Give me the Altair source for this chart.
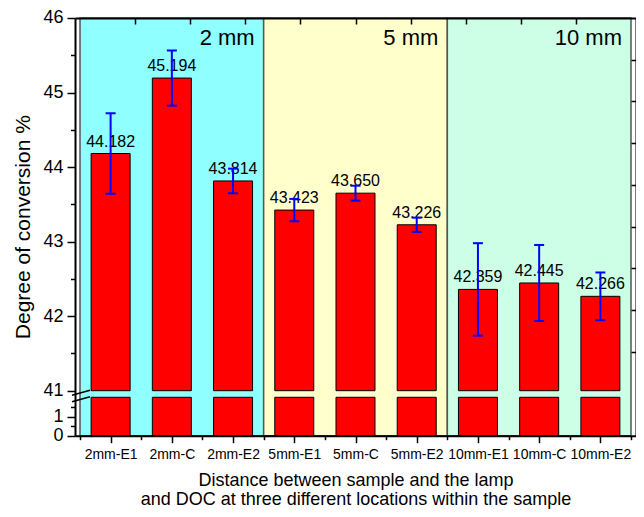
import json
import altair as alt
import pandas as pd

# ---- data ----
categories = ["2mm-E1", "2mm-C", "2mm-E2", "5mm-E1", "5mm-C", "5mm-E2",
              "10mm-E1", "10mm-C", "10mm-E2"]
values = [44.182, 45.194, 43.814, 43.423, 43.650, 43.226, 42.359, 42.445, 42.266]
errors = [0.54, 0.37, 0.165, 0.15, 0.10, 0.095, 0.62, 0.51, 0.32]
regions = ["2 mm"] * 3 + ["5 mm"] * 3 + ["10 mm"] * 3
region_names = ["2 mm", "5 mm", "10 mm"]
region_colors = ["#8FFFFF", "#FFFFCC", "#CCFFE6"]

y_major = [0, 1, 41, 42, 43, 44, 45, 46]
y_minor = [0.5, 1.5, 41.5, 42.5, 43.5, 44.5, 45.5]
break_values = [41, 2]
top_ticks = [0.4, 1.3, 2.2, 3.1, 4.0, 4.9, 5.8, 6.7, 7.6]
right_ticks = [45.44, 44.88, 44.32, 43.76, 43.20, 42.64, 42.08, 41.52]

W = 561
H = 417.7

df = pd.DataFrame({
    "category": categories,
    "value": values,
    "err": errors,
    "region": regions,
    "idx": list(range(len(categories))),
})
breaks = pd.DataFrame({"b": break_values})

xs = alt.Scale(domain=[-0.5, len(categories) - 0.5], nice=False, zero=False)
ys = alt.Scale(domain=[0, 2, 41, 46], range=[H, H - 38.4, H - 45, 0],
               nice=False, zero=False)

x_vals = [i / 2 - 0.5 for i in range(2 * len(categories) + 1)]
x_axis = alt.Axis(
    values=x_vals,
    labelExpr="datum.value % 1 === 0 ? " + json.dumps(categories) + "[datum.value] : ''",
    tickSize={"condition": {"test": "datum.value % 1 !== 0", "value": 4}, "value": 7},
    tickWidth=1.5, tickColor="black", domainColor="black", domainWidth=2,
    labelFontSize=14, labelPadding=5, labelFlush=False, labelOverlap=False,
    labelColor="black", grid=False, zindex=1,
    title=["Distance between sample and the lamp",
           "and DOC at three different locations within the sample"],
    titleFontSize=18, titleFontWeight="normal", titleColor="black",
    titleBaseline="alphabetic", titleY=50.3, titleLineHeight=19,
)
y_axis = alt.Axis(
    values=sorted(y_major + y_minor),
    labelExpr="datum.value % 1 === 0 ? datum.label : ''",
    tickSize={"condition": {"test": "datum.value % 1 !== 0", "value": 4.5}, "value": 8},
    tickWidth=1.5, tickColor="black", domainColor="black", domainWidth=2,
    labelFontSize=18, labelPadding=4, labelOverlap=False, labelColor="black",
    grid=False, zindex=1,
    title="Degree of conversion %", titleFontSize=21, titleFontWeight="normal",
    titleColor="black", titleBaseline="alphabetic", titleX=-45.5, titleY=208.7,
)
top_axis = alt.Axis(orient="bottom", offset=-H, values=top_ticks, labels=False,
                    tickSize=6, tickWidth=1.5, tickColor="black",
                    domainColor="black", domainWidth=2, grid=False, title=None, zindex=1)
right_axis = alt.Axis(orient="left", offset=-W, values=right_ticks, labels=False,
                      tickSize=5, tickWidth=1.5, tickColor="black",
                      domainColor="black", domainWidth=2, grid=False, title=None, zindex=1)

base = alt.Chart(df)

reg = base.transform_aggregate(
    lo="min(idx)", hi="max(idx)", groupby=["region"]
).transform_calculate(x0="datum.lo - 0.5", x1="datum.hi + 0.5")

bg = reg.mark_rect(stroke="#555555", strokeWidth=1.5).encode(
    x=alt.X("x0:Q", scale=xs, axis=None),
    x2="x1:Q",
    y=alt.YDatum(0, scale=ys, axis=None),
    y2=alt.datum(46),
    color=alt.Color("region:N", scale=alt.Scale(domain=region_names, range=region_colors),
                    legend=None),
)

reg_text = reg.mark_text(align="right", baseline="alphabetic", fontSize=22,
                         dx=-9, dy=26.7, color="black").encode(
    x=alt.X("x1:Q", scale=xs, axis=None),
    y=alt.YDatum(46, scale=ys, axis=None),
    text="region:N",
)

bars_low = base.mark_bar(size=39, color="#FF0000", stroke="black", strokeWidth=1,
                         orient="vertical").encode(
    x=alt.X("idx:Q", scale=xs, axis=None),
    y=alt.YDatum(0, scale=ys, axis=None),
    y2=alt.datum(2),
)

bars_up = base.mark_bar(size=39, color="#FF0000", stroke="black", strokeWidth=1,
                        orient="vertical").encode(
    x=alt.X("idx:Q", scale=xs, axis=x_axis),
    y=alt.Y("value:Q", scale=ys, axis=y_axis),
    y2=alt.datum(41),
)

labels = base.mark_text(baseline="alphabetic", fontSize=16, dy=-7, color="black").encode(
    x=alt.X("idx:Q", scale=xs, axis=None),
    y=alt.Y("value:Q", scale=ys, axis=None),
    text=alt.Text("value:Q", format=".3f"),
)

eb = base.transform_calculate(lo="datum.value - datum.err", hi="datum.value + datum.err")
err_rule = eb.mark_rule(color="#0000FF", strokeWidth=2).encode(
    x=alt.X("idx:Q", scale=xs, axis=None),
    y=alt.Y("lo:Q", scale=ys, axis=None),
    y2="hi:Q",
)
cap_lo = eb.mark_rule(color="#0000FF", strokeWidth=2, xOffset=-5, x2Offset=5).encode(
    x=alt.X("idx:Q", scale=xs, axis=None), x2="idx:Q",
    y=alt.Y("lo:Q", scale=ys, axis=None),
)
cap_hi = eb.mark_rule(color="#0000FF", strokeWidth=2, xOffset=-5, x2Offset=5).encode(
    x=alt.X("idx:Q", scale=xs, axis=None), x2="idx:Q",
    y=alt.Y("hi:Q", scale=ys, axis=None),
)

slashes = alt.Chart(breaks).mark_rule(color="black", strokeWidth=1.5, xOffset=-8,
                                      x2Offset=10, yOffset=4.5, y2Offset=-0.5).encode(
    x=alt.XDatum(-0.5, scale=xs, axis=None),
    x2=alt.datum(-0.5),
    y=alt.Y("b:Q", scale=ys, axis=None),
    y2="b:Q",
)

top_layer = base.mark_point(opacity=0).encode(
    x=alt.X("idx:Q", scale=xs, axis=top_axis),
    y=alt.Y("value:Q", scale=ys, axis=None),
)
right_layer = base.mark_point(opacity=0).encode(
    x=alt.X("idx:Q", scale=xs, axis=None),
    y=alt.Y("value:Q", scale=ys, axis=right_axis),
)

chart = alt.layer(
    bg, bars_low, bars_up, labels, err_rule, cap_lo, cap_hi, slashes, reg_text,
    top_layer, right_layer,
).resolve_axis(x="independent", y="independent").properties(
    width=W, height=H,
    autosize=alt.AutoSizeParams(type="none"),
    padding={"left": 67, "top": 10, "right": 0, "bottom": 73},
).configure(font="Liberation Sans").configure_view(stroke=None)

chart.save("out.html", embed_options={"renderer": "svg", "actions": False})
